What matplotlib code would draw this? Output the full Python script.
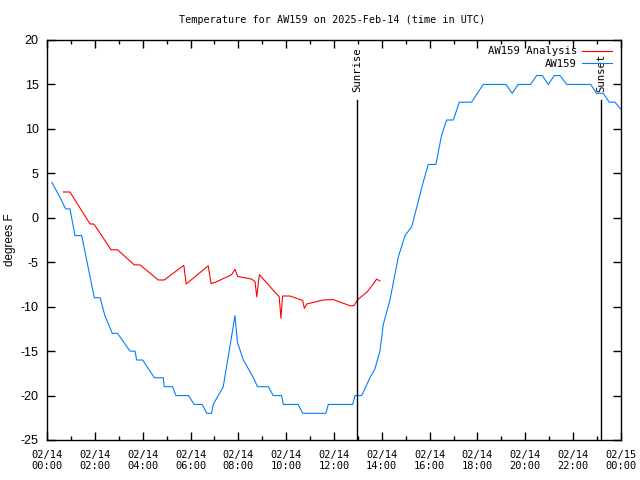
import matplotlib
matplotlib.use("Agg")
import matplotlib.pyplot as plt

# ---- data (hours since 2025-02-14 00:00 UTC, degrees F) ----
obs_hours = [0.2, 0.4, 0.6, 0.78, 0.96, 1.17, 1.45, 1.98, 2.22, 2.42, 2.73, 2.95,
             3.47, 3.68, 3.75, 4.0, 4.49, 4.86, 4.9, 5.25, 5.39, 5.92, 6.15, 6.49,
             6.68, 6.88, 6.95, 7.37, 7.58, 7.86, 7.96, 8.21, 8.63, 8.8, 9.25, 9.46,
             9.81, 9.88, 10.5, 10.69, 11.66, 11.76, 12.78, 12.88, 13.16, 13.5, 13.71,
             13.92, 14.06, 14.34, 14.69, 14.97, 15.25, 15.73, 15.94, 16.26, 16.5,
             16.71, 16.99, 17.24, 17.75, 18.24, 19.19, 19.45, 19.7, 20.22, 20.47,
             20.71, 20.96, 21.21, 21.45, 21.73, 22.73, 22.98, 23.26, 23.51, 23.75, 24.0]
obs_temp = [4, 3, 2, 1, 1, -2, -2, -9, -9, -11, -13, -13,
            -15, -15, -16, -16, -18, -18, -19, -19, -20, -20, -21, -21,
            -22, -22, -21, -19, -15.6, -11, -14, -16, -18, -19, -19, -20,
            -20, -21, -21, -22, -22, -21, -21, -20, -20, -18, -17,
            -15, -12, -9.25, -4.4, -2, -1, 4, 6, 6, 9.3,
            11, 11, 13, 13, 15, 15, 14, 15, 15, 16,
            16, 15, 16, 16, 15, 15, 14, 14, 13, 13, 12.2]

ana_hours = [0.68, 0.96, 1.8, 1.96, 2.68, 2.95, 3.65, 3.89, 4.65, 4.9, 5.72, 5.82,
             6.74, 6.86, 7.09, 7.72, 7.86, 7.97, 8.56, 8.7, 8.77, 8.88, 9.71, 9.78,
             9.85, 10.16, 10.69, 10.76, 10.86, 11.55, 11.97, 12.67, 12.83, 13.0,
             13.4, 13.71, 13.78, 13.92]
ana_temp = [2.9, 2.9, -0.7, -0.7, -3.6, -3.6, -5.3, -5.3, -7.0, -7.0, -5.35, -7.45,
            -5.4, -7.4, -7.2, -6.4, -5.8, -6.6, -6.9, -7.2, -8.9, -6.4, -8.9, -11.3,
            -8.8, -8.8, -9.3, -10.2, -9.7, -9.25, -9.2, -9.9, -9.9, -9.2,
            -8.3, -7.2, -6.9, -7.1]

sun_hours = [12.96, 23.16]
sun_labels = ["Sunrise", "Sunset"]

xtick_hours = list(range(0, 25, 2))
xtick_labels = ["02/14\n%02d:00" % h for h in range(0, 24, 2)] + ["02/15\n00:00"]
yticks = [-25, -20, -15, -10, -5, 0, 5, 10, 15, 20]

# ---- figure ----
mono = "DejaVu Sans Mono"
fig = plt.figure(figsize=(6.4, 4.8), dpi=100)
ax = fig.add_axes([47 / 640, 40 / 480, 574 / 640, 400 / 480])

ax.plot(ana_hours, ana_temp, color="#ff0000", lw=0.8, label="AW159 Analysis")
ax.plot(obs_hours, obs_temp, color="#0080ff", lw=0.8, label="AW159")

for h, lab in zip(sun_hours, sun_labels):
    ax.plot([h, h], [-25, 13.3], color="black", lw=1.0)
    ax.text(h, 14.1, lab, rotation=90, ha="center", va="bottom",
            fontsize=7.7, family=mono)

ax.set_xlim(0, 24)
ax.set_ylim(-25, 20)
ax.set_xticks(xtick_hours)
ax.set_xticklabels(xtick_labels, family=mono, fontsize=7.5)
ax.set_xticks(range(0, 25), minor=True)
ax.set_yticks(yticks)
ax.set_yticklabels([str(v) for v in yticks], fontsize=9, family="Liberation Sans")
ax.tick_params(axis="both", which="major", direction="in", length=6, width=1,
               top=True, right=True, pad=6)
ax.tick_params(axis="both", which="minor", direction="in", length=3, width=1,
               top=True, right=True)
ax.tick_params(axis="x", pad=7)
for s in ax.spines.values():
    s.set_linewidth(1.0)

fig.text(10 / 640, 0.5, "degrees F", rotation=90, ha="center", va="center",
         fontsize=8.5, family="Liberation Sans")
fig.text(0.519, 1 - 20 / 480, "Temperature for AW159 on 2025-Feb-14 (time in UTC)",
         ha="center", va="center", fontsize=7.3, family=mono)

leg = ax.legend(loc="upper right", frameon=False, markerfirst=False,
                prop={"family": mono, "size": 7.7}, handlelength=2.8,
                handletextpad=0.5, labelspacing=0.25, borderaxespad=0.2,
                bbox_to_anchor=(0.996, 1.0))
for t in leg.get_texts():
    t.set_ha("right")
leg._legend_box.align = "right"

fig.savefig("out.png", dpi=100)
